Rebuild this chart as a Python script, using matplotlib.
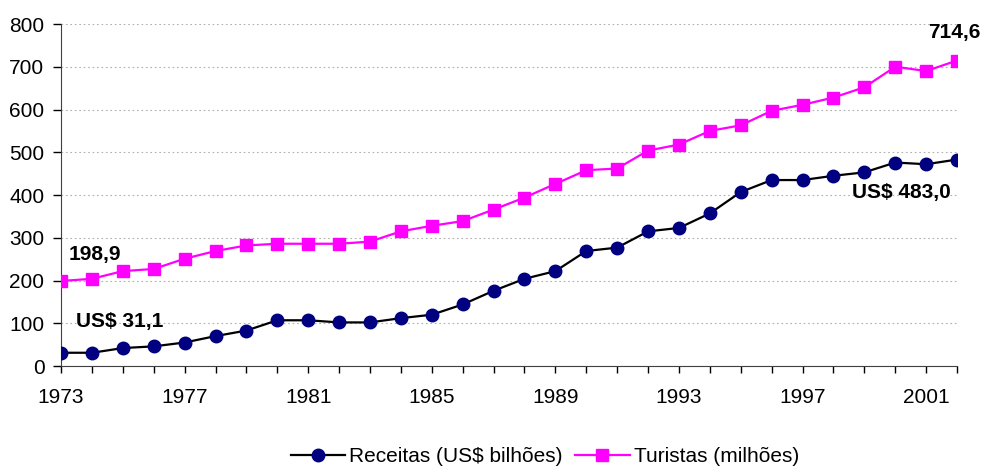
import matplotlib.pyplot as plt

plt.rcParams['font.family'] = ['Liberation Sans', 'DejaVu Sans']

# Data
anos = list(range(1973, 2003))
receitas = [31.1, 31, 42, 46, 55, 70, 83, 107, 107, 102, 102, 112, 120, 144, 176,
            204, 222, 269, 277, 315, 323, 357, 407, 435, 435, 445, 453, 476, 472, 483.0]
turistas = [198.9, 204, 222, 227, 251, 269, 282, 286, 286, 286, 291, 315, 328, 339, 366,
            394, 426, 458, 462, 504, 518, 550, 563, 597, 611, 628, 652, 700, 690, 714.6]
xticks = list(range(1973, 2002, 4))
yticks = list(range(0, 801, 100))


def br(v):
    return f"{v:.1f}".replace(".", ",")


fig = plt.figure(figsize=(9.83, 4.68), dpi=100)
ax = fig.add_axes([0.0621, 0.2179, 0.9115, 0.7308])

ax.plot(anos, receitas, color="black", lw=1.6, marker="o", ms=9,
        mfc="#000080", mec="#000080", label="Receitas (US$ bilhões)", zorder=3)
ax.plot(anos, turistas, color="#FF00FF", lw=1.6, marker="s", ms=9,
        mfc="#FF00FF", mec="#FF00FF", label="Turistas (milhões)", zorder=3)

ax.set_xlim(1973, 2002)
ax.set_ylim(0, 800)
ax.set_xticks(xticks)
ax.set_xticks(anos, minor=True)
ax.set_yticks(yticks)
ax.tick_params(axis="x", which="both", length=5, width=1, pad=11, labelsize=15)
ax.tick_params(axis="y", length=6, width=1, pad=6, labelsize=15)
ax.spines[["top", "right"]].set_visible(False)
ax.spines[["left", "bottom"]].set_color("#404040")
ax.grid(axis="y", ls=(0, (1.5, 2.5)), color="#b0b0b0", lw=0.8)
ax.set_axisbelow(True)

bold = dict(fontsize=15, fontweight="bold", clip_on=False)
ax.text(1973.25, 262, br(turistas[0]), va="center", ha="left", **bold)
ax.text(1973.5, 105, "US$ " + br(receitas[0]), va="center", ha="left", **bold)
ax.text(2001.9, 780, br(turistas[-1]), va="center", ha="center", **bold)
ax.text(1998.6, 406, "US$ " + br(receitas[-1]), va="center", ha="left", **bold)

fig.legend(loc="center", bbox_to_anchor=(545 / 983, 1 - 457 / 468), ncol=2,
           frameon=False, fontsize=15, handlelength=2.6, handletextpad=0.2,
           columnspacing=0.6)

fig.savefig("out.png", dpi=100)
